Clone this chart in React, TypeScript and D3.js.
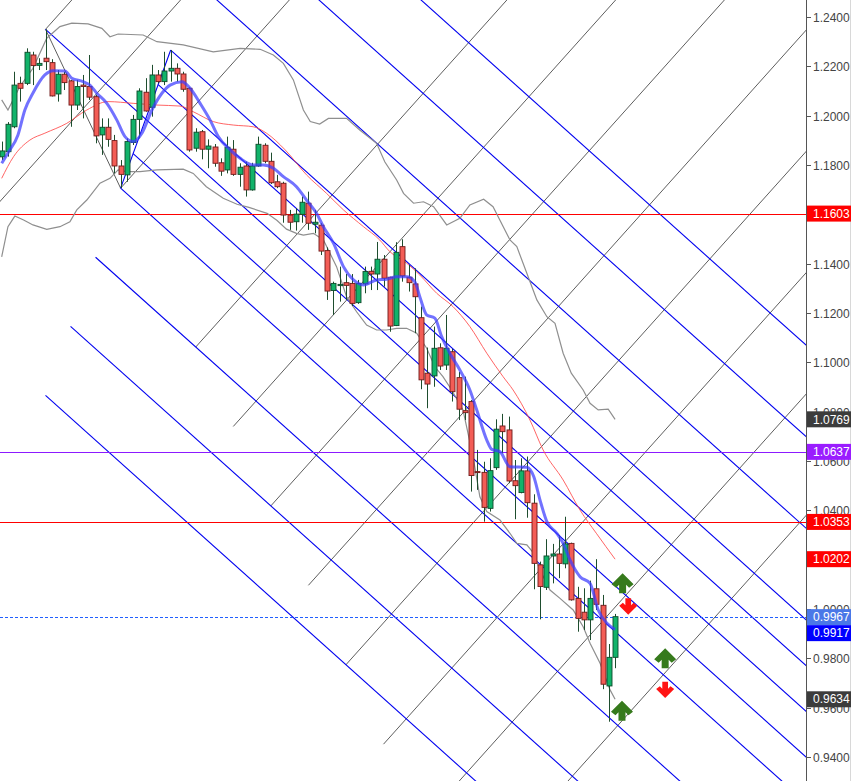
import * as d3 from 'd3';

// chart frame
const W = 853;
const H = 781;
const AXIS_X = 806;

// daily candles (oldest first)
const opens = [
  1.1833, 1.1854, 1.1955, 1.2131, 1.2131, 1.2246, 1.2204, 1.2233, 1.2215, 1.2088,
  1.2168, 1.2141, 1.2043, 1.2124, 1.2118, 1.2077, 1.1922, 1.1953, 1.1899, 1.1796,
  1.1760, 1.1891, 1.1985, 1.2095, 1.2034, 1.2165, 1.2138, 1.2181, 1.2192, 1.2169,
  1.2111, 1.1868, 1.1935, 1.1864, 1.1873, 1.1809, 1.1780, 1.1864, 1.1762, 1.1796,
  1.1699, 1.1796, 1.1880, 1.1815, 1.1732, 1.1726, 1.1597, 1.1570, 1.1600, 1.1645,
  1.1560, 1.1556, 1.1453, 1.1291, 1.1311, 1.1323, 1.1320, 1.1242, 1.1318, 1.1369,
  1.1358, 1.1418, 1.1345, 1.1149, 1.1469, 1.1345, 1.1318, 1.1181, 1.0956, 1.0945,
  1.1059, 1.0989, 1.1043, 1.0938, 1.0804, 1.0841, 1.0557, 1.0554, 1.0408, 1.0573,
  1.0742, 1.0726, 1.0520, 1.0472, 1.0560, 1.0429, 1.0179, 1.0088, 1.0215, 1.0223,
  1.0183, 1.0266, 1.0043, 0.9987, 0.9956, 1.0082, 1.0015, 0.9688, 0.9804,
];
const highs = [
  1.1895, 1.1974, 1.2178, 1.2158, 1.2273, 1.2259, 1.2233, 1.2350, 1.2229, 1.2185,
  1.2178, 1.2145, 1.2145, 1.2165, 1.2246, 1.2084, 1.1989, 1.1989, 1.1922, 1.1820,
  1.1908, 1.2003, 1.2111, 1.2152, 1.2206, 1.2185, 1.2259, 1.2266, 1.2212, 1.2178,
  1.2115, 1.1949, 1.1942, 1.1904, 1.1885, 1.1827, 1.1915, 1.1901, 1.1807, 1.1814,
  1.1809, 1.1915, 1.1888, 1.1850, 1.1760, 1.1732, 1.1618, 1.1625, 1.1672, 1.1692,
  1.1618, 1.1564, 1.1466, 1.1327, 1.1388, 1.1358, 1.1358, 1.1334, 1.1388, 1.1388,
  1.1488, 1.1435, 1.1347, 1.1487, 1.1499, 1.1395, 1.1381, 1.1226, 1.1060, 1.1145,
  1.1077, 1.1192, 1.1054, 1.0961, 1.0942, 1.0847, 1.0645, 1.0597, 1.0611, 1.0769,
  1.0791, 1.0780, 1.0604, 1.0611, 1.0618, 1.0465, 1.0192, 1.0283, 1.0264, 1.0300,
  1.0374, 1.0269, 1.0090, 1.0084, 1.0115, 1.0202, 1.0057, 0.9858, 0.9980,
];
const lows = [
  1.1820, 1.1834, 1.1949, 1.2057, 1.2124, 1.2124, 1.2185, 1.2185, 1.2078, 1.2057,
  1.2104, 1.1955, 1.2023, 1.1989, 1.2064, 1.1888, 1.1841, 1.1874, 1.1766, 1.1706,
  1.1732, 1.1881, 1.1908, 1.2016, 1.1996, 1.2131, 1.2124, 1.2138, 1.2138, 1.2097,
  1.1854, 1.1854, 1.1823, 1.1787, 1.1793, 1.1756, 1.1766, 1.1756, 1.1712, 1.1672,
  1.1696, 1.1793, 1.1807, 1.1723, 1.1706, 1.1566, 1.1537, 1.1534, 1.1566, 1.1537,
  1.1523, 1.1435, 1.1253, 1.1192, 1.1246, 1.1253, 1.1228, 1.1237, 1.1280, 1.1293,
  1.1293, 1.1307, 1.1124, 1.1147, 1.1327, 1.1287, 1.1118, 1.0891, 1.0814, 1.0901,
  1.0969, 1.0969, 1.0841, 1.0766, 1.0766, 1.0476, 1.0483, 1.0354, 1.0395, 1.0564,
  1.0631, 1.0510, 1.0364, 1.0469, 1.0370, 1.0080, 0.9958, 1.0077, 1.0104, 1.0125,
  1.0165, 1.0034, 0.9908, 0.9915, 0.9874, 0.9996, 0.9675, 0.9543, 0.9760,
];
const closes = [
  1.1857, 1.1965, 1.2124, 1.2111, 1.2257, 1.2203, 1.2212, 1.2219, 1.2080, 1.2168,
  1.2134, 1.2043, 1.2118, 1.2118, 1.2075, 1.1918, 1.1953, 1.1904, 1.1796, 1.1762,
  1.1895, 1.1985, 1.2100, 1.2019, 1.2165, 1.2138, 1.2181, 1.2192, 1.2169, 1.2107,
  1.1861, 1.1933, 1.1864, 1.1877, 1.1807, 1.1775, 1.1872, 1.1762, 1.1791, 1.1699,
  1.1796, 1.1884, 1.1815, 1.1728, 1.1712, 1.1597, 1.1568, 1.1601, 1.1649, 1.1564,
  1.1568, 1.1451, 1.1289, 1.1320, 1.1316, 1.1312, 1.1239, 1.1320, 1.1368, 1.1358,
  1.1418, 1.1341, 1.1147, 1.1446, 1.1350, 1.1323, 1.1266, 1.0929, 1.0912, 1.1057,
  1.0985, 1.1057, 1.0881, 1.0810, 1.0796, 1.0541, 1.0555, 1.0412, 1.0561, 1.0729,
  1.0719, 1.0519, 1.0500, 1.0560, 1.0431, 1.0185, 1.0091, 1.0215, 1.0223, 1.0185,
  1.0264, 1.0037, 0.9962, 0.9956, 1.0043, 1.0019, 0.9695, 0.9804, 0.9969,
];

// indicator readings: [bar, price]
const fastMa: [number, number][] = [
  [0, 1.1807], [1, 1.1849], [2.6, 1.1922], [3.7, 1.2023], [5, 1.2092], [6.9, 1.2165],
  [8.2, 1.2182], [10.1, 1.2181], [11.2, 1.2152], [13, 1.2138], [14.1, 1.2124], [15.2, 1.2091],
  [16.8, 1.205], [18.4, 1.1982], [19.7, 1.1915], [21, 1.1895], [22.4, 1.1929], [24, 1.2023],
  [25.6, 1.2091], [26.9, 1.2124], [28.8, 1.2138], [30.1, 1.2111], [31.7, 1.205], [33.3, 1.1982],
  [34.6, 1.1915], [36.5, 1.1861], [38.1, 1.1827], [40.2, 1.18], [41.8, 1.18], [43.4, 1.1787],
  [45, 1.1753], [47.1, 1.1712], [48.7, 1.1658], [50.3, 1.1604], [51.4, 1.155], [53, 1.1483],
  [54.6, 1.1388], [56.2, 1.1334], [57.8, 1.1314], [59.9, 1.1334], [61.5, 1.1337], [63.1, 1.1347],
  [64.7, 1.1347], [66, 1.1327], [66.8, 1.1266], [67.9, 1.1192], [69.2, 1.1179], [70.3, 1.1104],
  [71.6, 1.1037], [73.2, 1.0969], [74.8, 1.0888], [75.9, 1.0807], [77.5, 1.0685], [78.3, 1.0647],
  [79.6, 1.0638], [81.2, 1.0577], [83.9, 1.0575], [85, 1.0537], [86, 1.0442], [87.1, 1.0354],
  [88.7, 1.0307], [89.7, 1.0266], [90.8, 1.0199], [92.4, 1.0131], [94, 1.0104], [95.3, 0.9996],
  [96.7, 0.9942], [98, 0.9917],
];
const slowMa: [number, number][] = [
  [0, 1.1746], [1.9, 1.1834], [4.5, 1.1901], [6.9, 1.1929], [10.4, 1.1969], [13.6, 1.2023],
  [17, 1.2057], [21, 1.205], [24.8, 1.2043], [28.5, 1.2039], [30.6, 1.2016], [33.8, 1.1976],
  [37, 1.1962], [40.2, 1.1955], [42.3, 1.1929], [45.3, 1.1861], [48.7, 1.176], [51.9, 1.1685],
  [54.6, 1.1618], [57.8, 1.155], [60.4, 1.1496], [62, 1.1449], [64.7, 1.1402], [66.8, 1.1354],
  [69.5, 1.128], [72.1, 1.1226], [74.8, 1.1145], [77.5, 1.1037], [80.1, 1.0942], [81.7, 1.0888],
  [84.4, 1.0766], [86.5, 1.0645], [89.7, 1.0523], [92.4, 1.0401], [95, 1.0307], [98, 1.0202],
];
const bandUpper: [number, number][] = [
  [0, 1.2064], [1, 1.2023], [2.9, 1.2118], [5, 1.2192], [7.2, 1.2314], [9.3, 1.2361],
  [11.2, 1.2375], [13.8, 1.2372], [16, 1.2354], [17.3, 1.232], [18.6, 1.2331], [22.6, 1.2327],
  [24.8, 1.23], [29, 1.2287], [33.8, 1.2259], [38.1, 1.2273], [41.3, 1.2269], [43.4, 1.2246],
  [45, 1.2212], [46.6, 1.2145], [48.2, 1.2023], [49.3, 1.1976], [50.8, 1.1966], [52.2, 1.1989],
  [55.1, 1.1989], [57.2, 1.1942], [59.9, 1.1888], [61.2, 1.1813], [63.1, 1.1739], [64.2, 1.1685],
  [65.8, 1.1645], [67.4, 1.1651], [69, 1.1631], [71.1, 1.1557], [73.2, 1.1584], [74.8, 1.1638],
  [77, 1.1661], [78.5, 1.1631], [81.2, 1.1496], [82.3, 1.1469], [83.9, 1.1361], [85.5, 1.1253],
  [87.1, 1.1185], [88.4, 1.1158], [89.7, 1.1037], [91, 1.0956], [92.9, 1.0888], [94, 1.0834],
  [95.3, 1.0807], [96.9, 1.081], [98, 1.0769],
];
const bandLower: [number, number][] = [
  [0, 1.1428], [1, 1.155], [2.1, 1.1593], [3.5, 1.1577], [5, 1.1557], [7.2, 1.1539],
  [9.3, 1.155], [10.9, 1.157], [12, 1.1618], [13.6, 1.1658], [15.7, 1.1726], [17.3, 1.1746],
  [18.6, 1.178], [20, 1.1773], [22.1, 1.1773], [24.8, 1.178], [29, 1.1783], [30.6, 1.1766],
  [32.7, 1.1712], [35.4, 1.1665], [37.6, 1.1641], [39.5, 1.1628], [42.4, 1.1604], [44, 1.1575],
  [45.5, 1.1540], [47.1, 1.1523], [48.2, 1.1516], [49.8, 1.1523], [51.4, 1.1496], [53.5, 1.1388],
  [55.1, 1.1266], [56.7, 1.1205], [58.3, 1.1151], [59.9, 1.1131], [61.5, 1.1131], [63.1, 1.1138],
  [64.7, 1.1138], [66.3, 1.1118], [67.9, 1.1057], [69.2, 1.0982], [70.5, 1.0942], [71.9, 1.0888],
  [73.7, 1.0807], [75.3, 1.0618], [76.4, 1.0455], [77.5, 1.0395], [79.6, 1.0361], [81.2, 1.0307],
  [82.3, 1.0266], [83.9, 1.026], [85, 1.0226], [86, 1.0158], [87.6, 1.0077], [89.2, 1.0043],
  [91.3, 0.9996], [92.9, 0.9928], [94, 0.9861], [95.6, 0.978], [97.2, 0.9672], [98, 0.9634],
];

// pitchfork pivots [bar, price]
const pivotA: [number, number] = [7, 1.235];
const pivotB: [number, number] = [19, 1.1706];
const pivotC: [number, number] = [27, 1.2266];
// parallel lines: positions along B->C (0.5 = median from A)
const forkLevels = [-1.5, -1, -0.5, 0, 0.25, 0.5, 0.75, 1, 1.5, 2, 2.5];
// perpendicular lines: positions along A->B
const crossLevels = [0, 0.5, 1, 2, 2.5, 3, 3.5, 4, 4.5, 5, 5.5];

// horizontal levels
const levelPrices = [1.1603, 1.0637, 1.0353, 0.9967];
const levelColors = ['#ff0000', '#8c1aff', '#ff0000', '#1f5fff'];

// price tags on the axis
const tagPrices = [1.1603, 1.0769, 1.0637, 1.0353, 1.0202, 0.9967, 0.9917, 0.9634];
const tagColors = ['#ff0000', '#3c3c3c', '#9a1cff', '#ff0000', '#ff0000', '#4a78e8', '#0000ff', '#3c3c3c'];

const yTicks = [1.24, 1.22, 1.2, 1.18, 1.16, 1.14, 1.12, 1.1, 1.08, 1.06, 1.04, 1.02, 1.0, 0.98, 0.96, 0.94];

// signal arrows
const signalBars = [99.2, 100.1, 106, 106, 99.1];
const signalPrices = [1.0104, 1.001, 0.98, 0.9672, 0.9588];
const signalDirs = ['up', 'down', 'up', 'down', 'up'];

const x = d3.scaleLinear().domain([-0.27, 128.5]).range([0, AXIS_X]);
const y = d3.scaleLinear().domain([0.94, 1.24]).range([757, 17]);

type Pt = { x: number; y: number };

const toPx = (p: [number, number]): Pt => ({ x: x(p[0]), y: y(p[1]) });

export default function App() {
  const a = toPx(pivotA);
  const b = toPx(pivotB);
  const c = toPx(pivotC);
  const mid = { x: (b.x + c.x) / 2, y: (b.y + c.y) / 2 };
  const len = Math.hypot(mid.x - a.x, mid.y - a.y);
  const d = { x: (mid.x - a.x) / len, y: (mid.y - a.y) / len };
  const perp = { x: d.y, y: -d.x };
  const FAR = 2000;

  const forkLines = forkLevels.map((t) => {
    const s = t === 0.5 ? a : { x: b.x + t * (c.x - b.x), y: b.y + t * (c.y - b.y) };
    return { x1: s.x, y1: s.y, x2: s.x + d.x * FAR, y2: s.y + d.y * FAR };
  });
  const crossLines = crossLevels.map((s) => {
    const q = { x: a.x + s * (b.x - a.x), y: a.y + s * (b.y - a.y) };
    const back = s === 0.5 ? FAR : 0;
    return {
      x1: q.x - perp.x * back,
      y1: q.y - perp.y * back,
      x2: q.x + perp.x * FAR,
      y2: q.y + perp.y * FAR,
    };
  });

  const smoothGen = d3
    .line<[number, number]>()
    .x((p) => x(p[0]))
    .y((p) => y(p[1]))
    .curve(d3.curveMonotoneX);
  const bandGen = d3
    .line<[number, number]>()
    .x((p) => x(p[0]))
    .y((p) => y(p[1]));

  // axis tags, pushed apart when they overlap
  const TAG_H = 16;
  const tags = tagPrices
    .map((p, i) => ({ p, color: tagColors[i], y: y(p) }))
    .sort((m, n) => m.y - n.y);
  for (let i = 1; i < tags.length; i++) {
    if (tags[i].y < tags[i - 1].y + TAG_H) tags[i].y = tags[i - 1].y + TAG_H;
  }

  const upArrow = 'M0,-10 L11,1 L6.5,4.5 L3.5,1.5 L3.5,10 L-3.5,10 L-3.5,1.5 L-6.5,4.5 L-11,1 Z';

  return (
    <svg
      width={W}
      height={H}
      style={{ position: 'absolute', left: 0, top: 0, background: '#fff' }}
      fontFamily="Arial, 'Liberation Sans', sans-serif"
    >
      <defs>
        <clipPath id="plot">
          <rect x={0} y={0} width={AXIS_X} height={H} />
        </clipPath>
      </defs>

      <g clipPath="url(#plot)">
        {/* perpendicular grid */}
        <g stroke="#5e5e5e" strokeWidth={1}>
          {crossLines.map((l, i) => (
            <line key={'g' + i} {...l} />
          ))}
          <line x1={a.x} y1={a.y} x2={b.x} y2={b.y} />
        </g>

        {/* pitchfork */}
        <g stroke="#0000f0" strokeWidth={1.1}>
          {forkLines.map((l, i) => (
            <line key={'f' + i} {...l} />
          ))}
          <line x1={b.x} y1={b.y} x2={c.x} y2={c.y} />
        </g>

        {/* horizontal levels */}
        {levelPrices.map((p, i) => (
          <line
            key={'h' + i}
            x1={0}
            x2={AXIS_X}
            y1={Math.round(y(p)) + 0.5}
            y2={Math.round(y(p)) + 0.5}
            stroke={levelColors[i]}
            strokeWidth={i === 3 ? 1.2 : 1}
            strokeDasharray={i === 3 ? '3,2' : undefined}
          />
        ))}

        {/* bands and averages */}
        <path d={bandGen(bandUpper) || ''} fill="none" stroke="#8f8f8f" strokeWidth={1.2} />
        <path d={bandGen(bandLower) || ''} fill="none" stroke="#8f8f8f" strokeWidth={1.2} />
        <path d={smoothGen(slowMa) || ''} fill="none" stroke="#ff4a4a" strokeWidth={1} opacity={0.85} />

        {/* candles */}
        {opens.map((o, i) => {
          const cx = Math.round(x(i)) + 0.5;
          const cl = closes[i];
          const up = cl >= o;
          const top = y(Math.max(o, cl));
          const bh = Math.max(1, y(Math.min(o, cl)) - top);
          return (
            <g key={'c' + i}>
              <line x1={cx} x2={cx} y1={y(highs[i])} y2={y(lows[i])} stroke="#1e4d2e" strokeWidth={1} />
              <rect
                x={cx - 2.5}
                y={top}
                width={5}
                height={bh}
                fill={up ? '#12b36a' : '#f35d56'}
                stroke={up ? '#0f4a2a' : '#6e1a1a'}
                strokeWidth={0.9}
              />
            </g>
          );
        })}

        <path
          d={smoothGen(fastMa) || ''}
          fill="none"
          stroke="#3c3cff"
          strokeWidth={3}
          opacity={0.72}
          strokeLinejoin="round"
        />

        {/* signals */}
        {signalBars.map((bar, i) => {
          const isUp = signalDirs[i] === 'up';
          return (
            <path
              key={'s' + i}
              d={upArrow}
              transform={`translate(${x(bar)},${y(signalPrices[i])}) ${isUp ? '' : 'rotate(180) scale(0.82)'}`}
              fill={isUp ? '#367a1c' : '#ff1414'}
            />
          );
        })}
      </g>

      {/* price axis */}
      <line x1={AXIS_X + 0.5} x2={AXIS_X + 0.5} y1={0} y2={H} stroke="#555" strokeWidth={1} />
      <line x1={850.5} x2={850.5} y1={0} y2={H} stroke="#d8d8d8" strokeWidth={1} />
      {yTicks.map((t) => (
        <g key={'t' + t} transform={`translate(0,${Math.round(y(t)) + 0.5})`}>
          <line x1={AXIS_X} x2={AXIS_X + 5} stroke="#555" strokeWidth={1} />
          <text x={813} dy="0.35em" fontSize={12} fill="#444">
            {t.toFixed(4)}
          </text>
        </g>
      ))}
      {tags.map((t) => (
        <g key={'tag' + t.p} transform={`translate(0,${t.y})`}>
          <rect x={AXIS_X + 1} y={-TAG_H / 2} width={44} height={TAG_H} fill={t.color} />
          <text x={813} dy="0.35em" fontSize={12} fill="#fff">
            {t.p.toFixed(4)}
          </text>
        </g>
      ))}
    </svg>
  );
}
